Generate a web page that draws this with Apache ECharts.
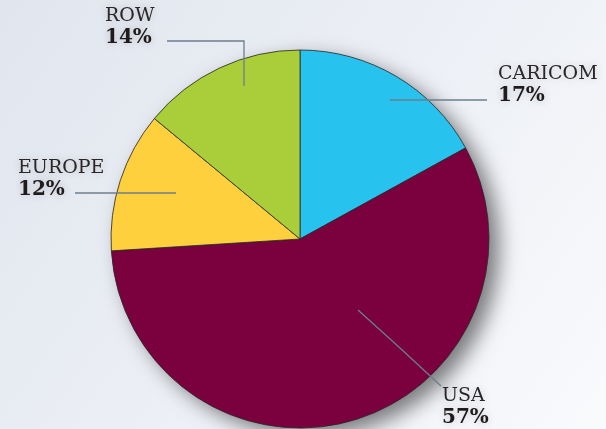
<!DOCTYPE html>
<html><head><meta charset="utf-8">
<script src="https://cdn.jsdelivr.net/npm/echarts@6/dist/echarts.min.js"></script>
<style>html,body{margin:0;padding:0;}#c{width:606px;height:429px;}</style>
</head><body><div id="c"></div>
<script>
const categories = ['CARICOM', 'USA', 'EUROPE', 'ROW'];
const values = [17, 57, 12, 14];
const colors = ['#27c2ee', '#7a003e', '#fed03d', '#aacd3a'];

const CX = 300, CY = 239, R = 189;
// label placement (layout only)
const labelPos = [
  {x: 498, y: 63, line: [[390,100],[440,100],[487,100]]},
  {x: 442, y: 385, line: [[358,310],[400,348],[441,386]]},
  {x: 18, y: 157, line: [[176,193],[120,193],[75,193]]},
  {x: 105, y: 5, line: [[244,86],[244,41],[167,41]]}
];

const data = categories.map((n, i) => ({name: n, value: values[i], itemStyle: {color: colors[i]}}));
const base = {
  type: 'pie', center: [CX, CY], radius: [0, R],
  startAngle: 90, clockwise: true, animation: false
};

const chart = echarts.init(document.getElementById('c'));
chart.setOption({
  backgroundColor: {
    type: 'linear', x: 0, y: 0, x2: 1, y2: 1,
    colorStops: [
      {offset: 0, color: '#e1e5ee'},
      {offset: 0.5, color: '#eceff5'},
      {offset: 1, color: '#f9fafc'}
    ]
  },
  graphic: [{
    type: 'circle', silent: true, z: 0,
    shape: {cx: CX, cy: CY, r: R},
    style: {fill: '#999', shadowColor: 'rgba(0,0,0,0.5)', shadowBlur: 20, shadowOffsetX: 10, shadowOffsetY: 8}
  }],
  series: [
    Object.assign({}, base, {
      z: 2,
      data: data,
      itemStyle: {borderColor: '#2a2a2a', borderWidth: 0.8},
      label: {show: false},
      labelLine: {show: false}
    }),
    Object.assign({}, base, {
      z: 3,
      silent: true,
      data: data.map(d => ({name: d.name, value: d.value, itemStyle: {color: 'rgba(0,0,0,0)'}})),
      itemStyle: {borderWidth: 0},
      label: {
        show: true,
        position: 'outside',
        overflow: 'none',
        edgeDistance: 0,
        formatter: p => '{n|' + p.name + '}\n{p|' + p.value + '%}',
        align: 'left',
        rich: {
          n: {fontFamily: 'DejaVu Serif', fontSize: 19, color: '#2a2627', lineHeight: 22, textShadowColor: 'rgba(0,0,0,0.2)', textShadowBlur: 8},
          p: {fontFamily: 'DejaVu Serif', fontWeight: 'bold', fontSize: 20, color: '#1f1b1c', lineHeight: 22, textShadowColor: 'rgba(0,0,0,0.2)', textShadowBlur: 8}
        }
      },
      labelLine: {show: true, lineStyle: {color: '#6b7f8c', width: 1.3}},
      labelLayout: function (params) {
        const lp = labelPos[params.dataIndex];
        return {x: lp.x, y: lp.y, align: 'left', verticalAlign: 'top', labelLinePoints: lp.line};
      }
    })
  ]
});
</script></body></html>
